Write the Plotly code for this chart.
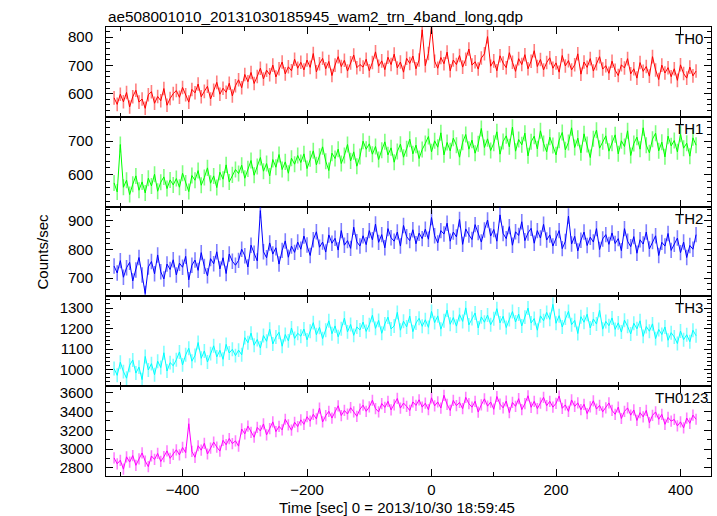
import plotly.graph_objects as go

# ---- data (5 s bins starting at -510 s) ----
time_start = -510
time_step = 5

th0 = [585, 562, 598, 571, 604, 553, 589, 612, 570, 581, 548, 596, 607, 566, 590, 575, 618, 559, 583, 600,
       611, 587, 622, 596, 570, 615, 603, 634, 589, 608, 626, 581, 612, 640, 598, 619, 605, 637, 592, 628,
       649, 621, 668, 642, 675, 636, 661, 690, 652, 683, 667, 701, 659, 688, 712, 670, 695, 681, 722, 690,
       711, 684, 719, 693, 742, 677, 706, 725, 688, 714, 664, 701, 731, 696, 718, 680, 709, 737, 692, 703,
       694, 722, 681, 710, 748, 697, 716, 685, 729, 703, 740, 691, 712, 676, 725, 707, 733, 688, 719, 826,
       699, 742, 838, 715, 690, 728, 706, 747, 681, 719, 703, 735, 694, 722, 758, 701, 713, 687, 726, 741,
       802, 697, 716, 681, 734, 708, 692, 745, 711, 679, 724, 703, 738, 688, 715, 752, 696, 721, 684, 710,
       727, 690, 709, 676, 735, 698, 717, 684, 702, 741, 669, 712, 693, 724, 680, 706, 731, 687, 699, 672,
       715, 683, 664, 702, 691, 724, 670, 688, 655, 710, 679, 696, 662, 731, 684, 650, 701, 673, 692, 660,
       688, 647, 702, 671, 655, 694, 663, 680]

th1 = [575, 548, 690, 562, 583, 540, 571, 596, 553, 578, 545, 589, 566, 601, 550, 577, 593, 558, 584, 569,
       588, 562, 604, 575, 549, 597, 583, 612, 568, 591, 620, 574, 596, 561, 607, 586, 629, 578, 599, 615,
       603, 628, 589, 617, 642, 598, 624, 651, 610, 633, 596, 645, 622, 660, 615, 638, 604, 649, 631, 657,
       636, 662, 618, 647, 671, 629, 655, 683, 640, 612, 664, 648, 676, 633, 657, 690, 641, 668, 625, 654,
       700, 676, 692, 661, 684, 645, 673, 698, 659, 680, 637, 669, 691, 652, 677, 706, 662, 688, 648, 675,
       693, 714, 668, 701, 682, 725, 659, 696, 671, 709, 688, 652, 697, 720, 676, 703, 664, 692, 738, 681,
       707, 672, 694, 728, 661, 699, 716, 683, 742, 670, 705, 689, 724, 656, 698, 715, 677, 731, 693, 668,
       712, 687, 659, 703, 726, 674, 696, 740, 681, 709, 665, 722, 690, 651, 707, 733, 679, 698, 716, 670,
       694, 719, 662, 701, 684, 731, 657, 693, 712, 676, 740, 688, 665, 706, 724, 671, 697, 653, 715, 686,
       702, 668, 721, 679, 694, 655, 710, 688]

th2 = [742, 718, 761, 703, 736, 755, 690, 728, 772, 711, 646, 739, 758, 715, 781, 722, 697, 749, 730, 764,
       711, 752, 738, 776, 694, 745, 763, 727, 789, 741, 708, 768, 750, 792, 732, 771, 716, 784, 759, 745,
       762, 801, 778, 739, 815, 787, 760, 936, 792, 771, 823, 784, 806, 749, 797, 830, 773, 812, 790, 826,
       801, 847, 816, 779, 834, 862, 808, 826, 791, 851, 822, 839, 798, 866, 815, 831, 804, 878, 827, 812,
       848, 817, 866, 834, 889, 825, 852, 806, 873, 841, 829, 861, 812, 884, 845, 831, 869, 820, 857, 838,
       871, 836, 912, 848, 823, 866, 854, 892, 829, 861, 844, 905, 818, 872, 851, 835, 887, 859, 826, 868,
       903, 847, 870, 829, 921, 856, 838, 880, 815, 862, 849, 897, 831, 858, 874, 822, 866, 840, 888, 833,
       851, 812, 839, 866, 803, 828, 917, 819, 846, 795, 832, 861, 814, 843, 826, 873, 800, 837, 852, 818,
       858, 821, 838, 796, 873, 829, 810, 845, 787, 834, 819, 861, 802, 828, 848, 779, 825, 812, 856, 797,
       818, 840, 789, 826, 772, 814, 801, 852]

th3 = [1005, 972, 1036, 990, 958, 1021, 1047, 983, 1012, 951, 1064, 998, 1029, 975, 1041, 1010, 1082, 993, 1034, 1019,
       1048, 1086, 1023, 1072, 1104, 1041, 1069, 1132, 1055, 1091, 1037, 1078, 1116, 1062, 1094, 1050, 1123, 1081, 1099, 1068,
       1095, 1072, 1156, 1131, 1178, 1119, 1147, 1105, 1166, 1138, 1197, 1125, 1159, 1182, 1114, 1171, 1140, 1203, 1152, 1177,
       1163, 1198, 1145, 1187, 1229, 1170, 1206, 1151, 1192, 1238, 1175, 1213, 1160, 1199, 1251, 1184, 1220, 1167, 1208, 1193,
       1232, 1186, 1219, 1265, 1201, 1240, 1177, 1223, 1256, 1198, 1213, 1279, 1192, 1236, 1208, 1261, 1185, 1227, 1250, 1211,
       1243, 1206, 1284, 1229, 1262, 1197, 1238, 1290, 1221, 1254, 1212, 1268, 1235, 1301, 1218, 1249, 1276, 1203, 1257, 1231,
       1266, 1219, 1248, 1297, 1228, 1260, 1205, 1244, 1283, 1232, 1271, 1213, 1256, 1300, 1227, 1249, 1192, 1262, 1238, 1279,
       1245, 1318, 1226, 1263, 1208, 1251, 1284, 1219, 1240, 1176, 1258, 1231, 1270, 1203, 1247, 1222, 1289, 1197, 1235, 1214,
       1252, 1196, 1228, 1183, 1241, 1211, 1174, 1226, 1199, 1238, 1162, 1210, 1187, 1223, 1151, 1196, 1171, 1208, 1143, 1180,
       1159, 1127, 1188, 1146, 1170, 1136, 1192, 1165]

th0123 = [2905, 2842, 2880, 2785, 2917, 2861, 2930, 2826, 2894, 2958, 2871, 2812, 2926, 2889, 2953, 2867, 2918, 2980, 2901, 2944,
          2992, 2938, 3017, 2961, 3270, 2974, 2912, 3035, 2988, 3061, 2947, 3009, 3074, 3021, 2978, 3093, 3046, 3112, 3058, 3087,
          3031, 3214, 3162, 3245, 3178, 3126, 3231, 3193, 3268, 3151, 3219, 3290, 3186, 3242, 3205, 3318, 3259, 3201, 3286, 3240,
          3312, 3264, 3345, 3298, 3371, 3322, 3437, 3289, 3356, 3403, 3331, 3389, 3462, 3358, 3412, 3374, 3441, 3396, 3350, 3425,
          3468, 3403, 3449, 3521, 3432, 3397, 3486, 3445, 3509, 3418, 3472, 3540, 3437, 3491, 3455, 3412, 3503, 3466, 3526, 3448,
          3489, 3420, 3547, 3461, 3503, 3438, 3574, 3477, 3412, 3519, 3463, 3498, 3431, 3552, 3484, 3447, 3510, 3395, 3472, 3536,
          3458, 3502, 3425, 3561, 3479, 3440, 3513, 3388, 3497, 3456, 3538, 3421, 3484, 3569, 3446, 3509, 3432, 3491, 3552, 3463,
          3510, 3447, 3488, 3566, 3435, 3471, 3402, 3524, 3456, 3493, 3420, 3478, 3379, 3451, 3515, 3427, 3466, 3398, 3439, 3492,
          3413, 3371, 3448, 3326, 3402, 3439, 3362, 3417, 3305, 3388, 3344, 3412, 3281, 3359, 3396, 3318, 3370, 3264, 3337, 3298,
          3316, 3247, 3290, 3226, 3331, 3275, 3362, 3318]

band_names = ["TH0", "TH1", "TH2", "TH3", "TH0123"]
band_errors = [24, 24, 27, 34, 60]
y_ranges = [[518, 836], [504, 773], [636, 950], [919, 1357], [2712, 3671]]
y_dticks = [100, 100, 100, 100, 200]
y_minor = [20, 20, 20, 20, 100]
x_range = [-523, 449]

title_text = "ae508001010_20131030185945_wam2_trn_4band_long.qdp"
x_title = "Time [sec] 0 = 2013/10/30 18:59:45"
y_title = "Counts/sec"

series = [th0, th1, th2, th3, th0123]
colors = ["#ff0000", "#00ff00", "#0000ff", "#00ffff", "#ff00ff"]
err_colors = ["rgba(255,0,0,0.5)", "rgba(0,255,0,0.5)", "rgba(0,0,255,0.5)",
              "rgba(0,255,255,0.5)", "rgba(255,0,255,0.5)"]

FONT = "Liberation Sans, Arial, Helvetica, sans-serif"
W, H = 717, 516
ml, mr, mt, mb = 106, 6, 27, 40
npan = 5

fig = go.Figure()
layout = {}
for k in range(npan):
    vals = series[k]
    t = [time_start + time_step * i for i in range(len(vals))]
    idx = "" if k == 0 else str(k + 1)
    fig.add_trace(go.Scatter(
        x=t, y=vals, mode="lines",
        line=dict(color=colors[k], width=1),
        error_y=dict(type="constant", value=band_errors[k], color=err_colors[k],
                     thickness=1.6, width=0),
        xaxis="x" + idx, yaxis="y" + idx, showlegend=False, hoverinfo="skip"))
    top = 1 - k / npan
    bot = 1 - (k + 1) / npan
    layout["xaxis" + idx] = dict(
        domain=[0, 1], anchor="y" + idx, range=x_range,
        showline=True, linecolor="black", linewidth=1, mirror="allticks",
        ticks="inside", ticklen=7, tickcolor="black", tickwidth=1,
        dtick=200, tick0=0,
        minor=dict(dtick=100, tick0=0, ticks="inside", ticklen=4, tickcolor="black", showgrid=False),
        showgrid=False, zeroline=False,
        showticklabels=(k == npan - 1),
        tickfont=dict(family=FONT, size=15, color="black"),
        matches=None if k == 0 else "x")
    layout["yaxis" + idx] = dict(
        domain=[bot, top], anchor="x" + idx, range=y_ranges[k],
        showline=True, linecolor="black", linewidth=1, mirror="allticks",
        ticks="inside", ticklen=7, tickcolor="black", tickwidth=1,
        dtick=y_dticks[k], tick0=0,
        minor=dict(dtick=y_minor[k], tick0=0, ticks="inside", ticklen=4, tickcolor="black", showgrid=False),
        showgrid=False, zeroline=False, ticklabelstandoff=9,
        tickfont=dict(family=FONT, size=15, color="black"))

annotations = []
for k in range(npan):
    idx = "" if k == 0 else str(k + 1)
    annotations.append(dict(
        text=band_names[k], xref="x" + idx + " domain", yref="y" + idx + " domain",
        x=1, y=1, xanchor="right", yanchor="top",
        xshift=-6 if k < npan - 1 else -1, yshift=-1, showarrow=False,
        font=dict(family=FONT, size=15, color="black")))

annotations.append(dict(text=title_text, xref="paper", yref="paper",
                        x=0, y=1 + 10 / (H - mt - mb), xanchor="left", yanchor="middle",
                        showarrow=False, font=dict(family=FONT, size=15.3, color="black")))
annotations.append(dict(text=x_title, xref="paper", yref="paper",
                        x=(397 - ml) / (W - ml - mr), y=-(507 - (H - mb)) / (H - mt - mb),
                        xanchor="center", yanchor="middle",
                        showarrow=False, font=dict(family=FONT, size=15, color="black")))
annotations.append(dict(text=y_title, xref="paper", yref="paper",
                        x=(42 - ml) / (W - ml - mr), y=0.5, textangle=-90,
                        xanchor="center", yanchor="middle",
                        showarrow=False, font=dict(family=FONT, size=15, color="black")))

fig.update_layout(
    width=W, height=H, autosize=False,
    margin=dict(l=ml, r=mr, t=mt, b=mb, pad=0),
    paper_bgcolor="white", plot_bgcolor="white",
    annotations=annotations,
    **layout)

fig.write_html("out.html", config={"displayModeBar": False},
               post_script="document.body.style.margin='0px';document.body.style.overflow='hidden';")
